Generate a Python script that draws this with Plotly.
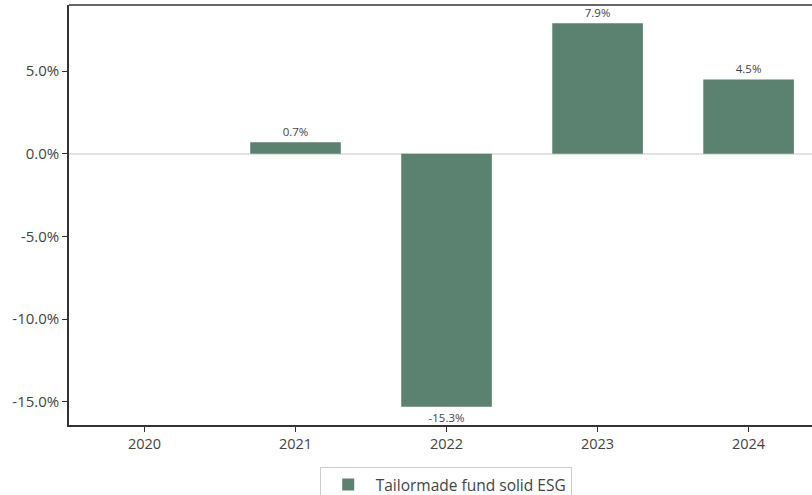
import plotly.graph_objects as go

years = ["2020", "2021", "2022", "2023", "2024"]
returns = [None, 0.7, -15.3, 7.9, 4.5]
labels = ["" if v is None else f"{v:.1f}%" for v in returns]
series_name = "Tailormade fund solid ESG"
y_ticks = [-15, -10, -5, 0, 5]
y_tick_text = [f"{t:.1f}%" for t in y_ticks]

fig = go.Figure()
fig.add_trace(go.Bar(
    x=years, y=returns, name=series_name,
    marker=dict(color="#5b8270", line=dict(width=0)),
    width=0.6,
    text=labels, textposition="outside",
    textfont=dict(size=11.5, color="#444444"),
    cliponaxis=False,
))

fig.update_layout(
    width=812, height=495,
    margin=dict(l=69, r=0, t=5, b=70, autoexpand=False),
    plot_bgcolor="white", paper_bgcolor="white",
    font=dict(family="Open Sans, Noto Sans, sans-serif", color="#444444", size=14),
    showlegend=True,
    legend=dict(orientation="h", x=0.507, xanchor="center", y=-0.1, yanchor="top",
                bordercolor="#cccccc", borderwidth=1, font=dict(size=15.5),
                itemwidth=45),
    xaxis=dict(range=[-0.5, 4.42], showline=True, linecolor="#333333", linewidth=1.5,
               ticks="outside", ticklen=5, tickcolor="#333333", showgrid=False,
               tickfont=dict(size=14.5), automargin=False),
    yaxis=dict(range=[-16.4, 9.0], tickvals=y_ticks, ticktext=y_tick_text,
               showline=True, linecolor="#333333", linewidth=1.5,
               ticks="outside", ticklen=5, tickcolor="#333333", showgrid=False,
               zeroline=True, zerolinecolor="#e3e3e3", zerolinewidth=1.5,
               tickfont=dict(size=15), automargin=False),
    bargap=0.4,
)
fig.add_shape(type="line", xref="paper", yref="paper", x0=0, x1=1, y0=1, y1=1,
              line=dict(color="#333333", width=1.5))

fig.write_html("out.html", config={"displayModeBar": False},
               post_script="document.body.style.margin='0';document.body.style.overflow='hidden';")
